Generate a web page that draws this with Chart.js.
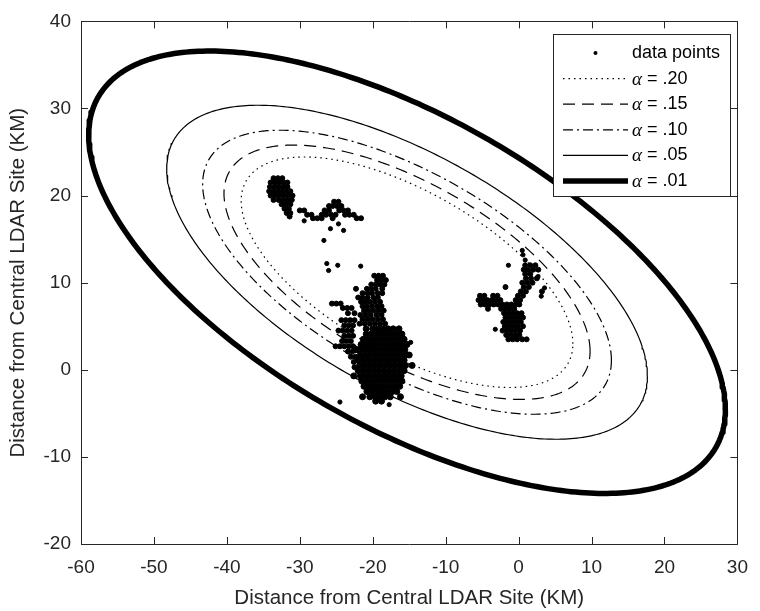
<!DOCTYPE html>
<html>
<head>
<meta charset="utf-8">
<script src="https://cdn.jsdelivr.net/npm/chart.js@4/dist/chart.umd.min.js"></script>
<style>
  body { margin: 0; background: #fff; }
  canvas { display: block; }
</style>
</head>
<body>
<canvas id="chart" width="760" height="611"></canvas>
<script>
// axis ranges and ticks
const xTicks = [-60, -50, -40, -30, -20, -10, 0, 10, 20, 30];
const yTicks = [-20, -10, 0, 10, 20, 30, 40];
const axisTitle = 'Distance from Central LDAR Site (KM)';

// confidence ellipses
const alphaLabels = ['.20', '.15', '.10', '.05', '.01'];
const ellipseScale = [0.521, 0.575, 0.642, 0.755, 1.0]; // size relative to the .01 ellipse
const ellipseCenter = [-15.3, 11.2];
const ellipseCov = [1905, -687.5, 645]; // sxx, sxy, syy of the .01 ellipse

// lightning source points; dense clumps are written as rows [y, [x, x, ...]]
const westRows = [
  [22.0, [-33.6, -33.0, -32.4]],
  [21.5, [-34.0, -33.4, -32.8, -32.2, -31.7]],
  [21.0, [-34.1, -33.5, -32.9, -32.3, -31.7]],
  [20.5, [-34.2, -33.6, -33.0, -32.4, -31.8, -31.3]],
  [20.0, [-34.0, -33.4, -32.8, -32.2, -31.6, -31.0]],
  [19.5, [-33.6, -32.9, -32.3, -31.7, -31.1]],
  [19.0, [-32.5, -31.9, -31.3]],
  [18.5, [-32.1, -31.5]],
  [18.0, [-31.8, -31.3]],
  [17.6, [-31.4]]
];
const tailRows = [
  [19.3, [-25.3, -24.7]],
  [18.8, [-26.0, -25.5, -24.9, -24.3]],
  [18.3, [-30.0, -29.4, -26.6, -26.0, -24.6, -24.0, -23.4]],
  [17.8, [-29.0, -28.4, -27.0, -26.4, -25.7, -25.1, -23.8, -23.2, -22.6]],
  [17.4, [-28.2, -27.6, -27.0, -25.5, -22.2, -21.6]]
];
const columnRows = [
  [10.8, [-19.8, -19.2, -18.6]],
  [10.3, [-19.4, -18.8, -18.2]],
  [9.8, [-20.2, -19.6, -19.0, -18.4]],
  [9.3, [-22.3, -20.8, -20.2, -19.6, -18.7]],
  [8.8, [-21.4, -20.7, -20.1, -19.3, -18.7]],
  [8.3, [-22.0, -21.4, -20.7, -19.9, -19.3]],
  [7.8, [-21.6, -21.0, -20.4, -19.7, -19.0]],
  [7.3, [-21.4, -20.8, -20.1, -19.4, -18.8]],
  [6.8, [-21.2, -20.6, -19.9, -19.2, -18.5]],
  [6.3, [-21.7, -21.0, -20.3, -19.5, -18.8]],
  [5.8, [-21.4, -20.7, -20.0, -19.3, -18.6]],
  [5.3, [-21.8, -21.1, -20.4, -19.7, -19.0, -18.3]]
];
const branchRows = [
  [7.6, [-25.6, -25.0, -24.4]],
  [7.1, [-24.1, -23.5, -22.9]],
  [6.5, [-23.4, -22.5]],
  [5.7, [-24.3, -23.7, -23.1, -22.5]],
  [5.1, [-23.9, -23.3, -22.7]],
  [4.5, [-24.7, -24.1, -23.5, -22.9]],
  [3.9, [-23.9, -23.3, -22.7]],
  [3.3, [-24.2, -23.6, -23.0]],
  [2.7, [-25.1, -24.5, -23.9, -23.3, -22.7]],
  [2.1, [-23.4, -22.8]],
  [1.5, [-23.0, -22.4]],
  [0.9, [-22.6]],
  [0.3, [-22.5]]
];
const coreRows = [
  [4.7, [-20.9, -20.0, -19.3, -18.6, -17.9, -17.2, -16.4]],
  [4.1, [-20.9, -20.2, -19.5, -18.8, -18.1, -17.4, -16.7, -16.0]],
  [3.5, [-21.3, -20.6, -19.9, -19.2, -18.5, -17.8, -17.1, -16.4, -15.7]],
  [2.9, [-21.6, -20.9, -20.2, -19.5, -18.8, -18.1, -17.4, -16.7, -16.0, -15.3]],
  [2.3, [-22.3, -21.9, -21.2, -20.5, -19.8, -19.1, -18.4, -17.7, -17.0, -16.3, -15.6]],
  [1.7, [-21.7, -21.0, -20.3, -19.6, -18.9, -18.2, -17.5, -16.8, -16.1, -15.4, -15.0]],
  [1.1, [-22.0, -21.3, -20.6, -19.9, -19.2, -18.5, -17.8, -17.1, -16.4, -15.7]],
  [0.5, [-21.8, -21.1, -20.4, -19.7, -19.0, -18.3, -17.6, -16.9, -16.2, -15.5, -14.6]],
  [-0.1, [-22.0, -21.3, -20.6, -19.9, -19.2, -18.5, -17.8, -17.1, -16.4, -15.7]],
  [-0.7, [-22.6, -21.7, -21.0, -20.3, -19.6, -18.9, -18.2, -17.5, -16.8, -16.1]],
  [-1.3, [-21.5, -20.8, -20.1, -19.4, -18.7, -18.0, -17.3, -16.6, -16.0]],
  [-1.9, [-21.2, -20.5, -19.8, -19.1, -18.4, -17.7, -17.0, -16.3]],
  [-2.5, [-20.8, -20.1, -19.4, -18.7, -18.0, -17.3, -16.7]],
  [-3.1, [-21.4, -20.4, -19.7, -19.0, -18.3, -17.6, -16.2]],
  [-3.6, [-19.6, -18.8]]
];
const eastRows = [
  [12.0, [0.9, 1.6, 2.3]],
  [11.5, [0.7, 1.3, 2.0, 2.7]],
  [11.0, [0.9, 1.6]],
  [10.5, [1.0, 1.7, 2.5]],
  [10.0, [0.5, 1.2, 1.9]],
  [9.5, [-1.8, 0.7, 1.4]],
  [9.0, [0.3, 1.0, 3.2]],
  [8.5, [-5.3, -4.7, -3.5, -2.9, -0.1, 0.6]],
  [8.0, [-5.5, -4.9, -4.3, -3.7, -3.1, -2.5, -0.4, 0.2]],
  [7.5, [-5.2, -4.6, -4.0, -3.4, -2.8, -2.2, -1.6, -1.0, -0.4, 0.1]],
  [7.0, [-4.2, -2.4, -1.8, -1.2, -0.6]],
  [6.5, [-2.0, -1.4, -0.8, -0.2, 0.4]],
  [6.0, [-1.8, -1.2, -0.6, 0.0, 0.6]],
  [5.5, [-2.1, -1.5, -0.9, -0.3, 0.3]],
  [5.0, [-1.9, -1.3, -0.7, -0.1, 0.6]],
  [4.5, [-2.2, -1.6, -1.0, -0.4, 0.2]],
  [4.0, [-1.7, -1.1, -0.5, 0.1]],
  [3.5, [-1.4, -0.8, -0.2, 0.5, 1.1]]
];
const strayPoints = [
  [-25.8, 16.2], [-24.7, 16.75], [-24.0, 16.0], [-29.4, 17.1],
  [-26.7, 14.85], [-26.3, 12.2], [-26.05, 11.4], [-24.8, 12.0], [-21.65, 11.9],
  [-14.8, 3.15], [-24.5, -3.7], [-17.75, -4.0],
  [0.9, 12.6], [0.6, 13.2], [0.5, 13.7], [-3.2, 4.65], [3.55, 9.4], [2.65, 10.7],
  [3.1, 8.45], [-1.4, 12.0]
];

const rowsToXY = rows => {
  const out = [];
  rows.forEach(r => r[1].forEach(x => out.push({ x: x, y: r[0] })));
  return out;
};

// outline of one confidence ellipse from centre + covariance
function ellipseOutline(scale) {
  const l11 = Math.sqrt(ellipseCov[0]);
  const l21 = ellipseCov[1] / l11;
  const l22 = Math.sqrt(ellipseCov[2] - l21 * l21);
  const pts = [];
  for (let i = 0; i <= 360; i++) {
    const t = i * Math.PI / 180;
    pts.push({
      x: ellipseCenter[0] + scale * l11 * Math.cos(t),
      y: ellipseCenter[1] + scale * (l21 * Math.cos(t) + l22 * Math.sin(t))
    });
  }
  return pts;
}

const lineStyles = [
  { dash: [1.5, 4], width: 1.2 },
  { dash: [12, 7], width: 1.2 },
  { dash: [10, 4, 2, 4], width: 1.2 },
  { dash: [], width: 1.2 },
  { dash: [], width: 5.5 }
];

// overlapping markers in the clumps are drawn a bit fuller so they merge like the original
const pointStyle = { backgroundColor: '#000', borderColor: '#000', pointRadius: 2.1, borderWidth: 1, showLine: false };
const datasets = [
  Object.assign({ label: 'data points', data: strayPoints.map(p => ({ x: p[0], y: p[1] })) }, pointStyle),
  Object.assign({ label: 'data points clumps', data: rowsToXY(westRows.concat(tailRows, columnRows, branchRows, eastRows)) }, pointStyle, { pointRadius: 2.5 }),
  Object.assign({ label: 'data points core', data: rowsToXY(coreRows) }, pointStyle, { pointRadius: 3.0 })
];
alphaLabels.forEach((a, i) => {
  datasets.push({
    label: 'α = ' + a,
    data: ellipseOutline(ellipseScale[i]),
    showLine: true,
    pointRadius: 0,
    borderColor: '#000',
    borderWidth: lineStyles[i].width,
    borderDash: lineStyles[i].dash,
    borderJoinStyle: 'round',
    fill: false,
    tension: 0
  });
});

// MATLAB style box, inward ticks and boxed legend
const axisColor = '#262626';
const matlabFrame = {
  id: 'matlabFrame',
  afterDatasetsDraw(chart) {
    const { ctx, chartArea: a, scales } = chart;
    ctx.save();
    ctx.strokeStyle = axisColor;
    ctx.lineWidth = 1;
    ctx.setLineDash([]);
    ctx.beginPath();
    ctx.rect(Math.round(a.left) + 0.5, Math.round(a.top) + 0.5, Math.round(a.right - a.left), Math.round(a.bottom - a.top));
    const tl = 7;
    xTicks.forEach(v => {
      const px = Math.round(scales.x.getPixelForValue(v)) + 0.5;
      ctx.moveTo(px, a.bottom); ctx.lineTo(px, a.bottom - tl);
      ctx.moveTo(px, a.top); ctx.lineTo(px, a.top + tl);
    });
    yTicks.forEach(v => {
      const py = Math.round(scales.y.getPixelForValue(v)) + 0.5;
      ctx.moveTo(a.left, py); ctx.lineTo(a.left + tl, py);
      ctx.moveTo(a.right, py); ctx.lineTo(a.right - tl, py);
    });
    ctx.stroke();

    // legend
    const box = { left: 553.5, top: 34.5, right: 730.5, bottom: 196.5 };
    ctx.fillStyle = '#fff';
    ctx.fillRect(box.left, box.top, box.right - box.left, box.bottom - box.top);
    ctx.strokeRect(box.left, box.top, box.right - box.left, box.bottom - box.top);
    const rowY = [53, 78.6, 104.2, 129.8, 155.4, 181];
    const lineX0 = 563, lineX1 = 628, textX = 632;
    ctx.fillStyle = '#000';
    ctx.beginPath();
    ctx.arc((lineX0 + lineX1) / 2, rowY[0], 2, 0, Math.PI * 2);
    ctx.fill();
    ctx.textBaseline = 'middle';
    ctx.textAlign = 'left';
    ctx.font = '18px "Liberation Sans", Arial, sans-serif';
    ctx.fillText('data points', textX, rowY[0]);
    alphaLabels.forEach((a2, i) => {
      const y = rowY[i + 1];
      ctx.strokeStyle = '#000';
      ctx.lineWidth = lineStyles[i].width;
      ctx.setLineDash(lineStyles[i].dash);
      ctx.beginPath();
      ctx.moveTo(lineX0, y); ctx.lineTo(lineX1, y);
      ctx.stroke();
      ctx.setLineDash([]);
      ctx.font = 'italic 19px "Liberation Serif", "DejaVu Serif", serif';
      ctx.fillText('α', textX, y + 1);
      const w = ctx.measureText('α').width;
      ctx.font = '18px "Liberation Sans", Arial, sans-serif';
      ctx.fillText(' = ' + a2, textX + w, y);
    });
    ctx.restore();
  }
};

const tickFont = { family: '"Liberation Sans", Arial, sans-serif', size: 19 };
const titleFont = { family: '"Liberation Sans", Arial, sans-serif', size: 20.5 };

new Chart(document.getElementById('chart').getContext('2d'), {
  type: 'scatter',
  data: { datasets: datasets },
  options: {
    responsive: false,
    animation: false,
    devicePixelRatio: 1,
    layout: { padding: { top: 15, right: 10, left: 0, bottom: 0 } },
    plugins: { legend: { display: false }, tooltip: { enabled: false } },
    scales: {
      x: {
        type: 'linear', min: -60, max: 30,
        afterBuildTicks: s => { s.ticks = xTicks.map(v => ({ value: v })); },
        ticks: { font: tickFont, color: axisColor, padding: 12, maxRotation: 0 },
        grid: { display: false, drawTicks: false },
        border: { display: false },
        title: { display: true, text: axisTitle, font: titleFont, color: axisColor, padding: { top: 0, bottom: 0 } },
        afterFit: s => { s.height = 67; }
      },
      y: {
        type: 'linear', min: -20, max: 40,
        afterBuildTicks: s => { s.ticks = yTicks.map(v => ({ value: v })); },
        ticks: { font: tickFont, color: axisColor, padding: 10 },
        grid: { display: false, drawTicks: false },
        border: { display: false },
        title: { display: true, text: axisTitle, font: titleFont, color: axisColor, padding: { top: 6, bottom: 0 } },
        afterFit: s => { s.width = 81; }
      }
    }
  },
  plugins: [matlabFrame]
});
</script>
</body>
</html>
